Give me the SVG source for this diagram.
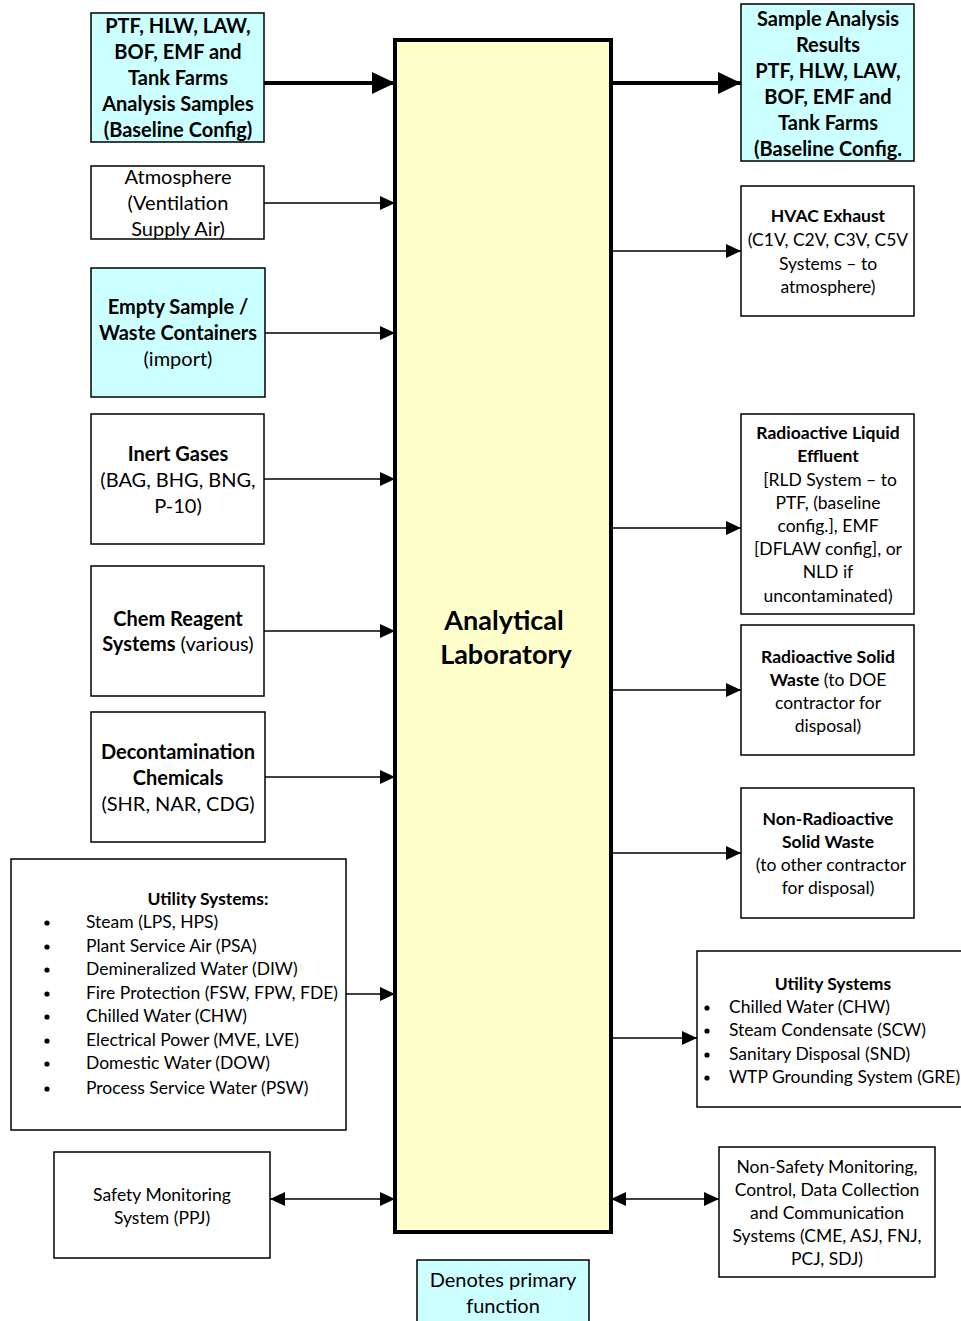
<svg xmlns="http://www.w3.org/2000/svg" width="961" height="1321" viewBox="0 0 961 1321">
<style>
text{font-family:Lato,"Open Sans","Liberation Sans",sans-serif;fill:#000;text-anchor:middle}
.b{font-weight:bold}
.l{font-size:20px}
.m{font-size:17.5px}
.s{font-size:17.5px;text-anchor:start}
.box{stroke:#000;stroke-width:1.5;fill:#fff}
.cy{fill:#CCFFFF}
.thin{stroke:#000;stroke-width:1.5;fill:none;marker-end:url(#ah)}
.thick{stroke:#000;stroke-width:4;fill:none;marker-end:url(#AH)}
.dbl{stroke:#000;stroke-width:1.5;fill:none;marker-end:url(#ah);marker-start:url(#ah)}
</style>
<defs>
<marker id="ah" markerUnits="userSpaceOnUse" markerWidth="16" markerHeight="14" refX="15" refY="7" orient="auto-start-reverse"><path d="M0,0 L15,7 L0,14 z" fill="#000"/></marker>
<marker id="AH" markerUnits="userSpaceOnUse" markerWidth="24" markerHeight="22" refX="23" refY="11" orient="auto"><path d="M0,0 L23,11 L0,22 z" fill="#000"/></marker>
</defs>
<rect width="961" height="1321" fill="#fff"/>

<g id="main">
<rect x="395" y="40" width="216" height="1192" fill="#FFFFCC" stroke="#000" stroke-width="4"/>
<text x="504" y="630" class="b" font-size="27">Analytical</text>
<text x="506" y="664" class="b" font-size="27">Laboratory</text>
</g>

<g id="connectors">
<line x1="264" y1="83" x2="395" y2="83" class="thick"/>
<line x1="611" y1="83" x2="741" y2="83" class="thick"/>
<line x1="264" y1="203" x2="395" y2="203" class="thin"/>
<line x1="265" y1="333" x2="395" y2="333" class="thin"/>
<line x1="264" y1="479" x2="395" y2="479" class="thin"/>
<line x1="264" y1="631" x2="395" y2="631" class="thin"/>
<line x1="265" y1="777" x2="395" y2="777" class="thin"/>
<line x1="346" y1="994" x2="395" y2="994" class="thin"/>
<line x1="270" y1="1199" x2="395" y2="1199" class="dbl"/>
<line x1="611" y1="251" x2="741" y2="251" class="thin"/>
<line x1="611" y1="528" x2="741" y2="528" class="thin"/>
<line x1="611" y1="690" x2="741" y2="690" class="thin"/>
<line x1="611" y1="853" x2="741" y2="853" class="thin"/>
<line x1="611" y1="1038" x2="697" y2="1038" class="thin"/>
<line x1="611" y1="1199" x2="719" y2="1199" class="dbl"/>
</g>

<g id="samples-in">
<rect x="91" y="13" width="173" height="129" class="box cy"/>
<text class="b l"><tspan x="178" y="33">PTF, HLW, LAW,</tspan><tspan x="178" y="59">BOF, EMF and</tspan><tspan x="178" y="85">Tank Farms</tspan><tspan x="178" y="111">Analysis Samples</tspan><tspan x="178" y="137">(Baseline Config)</tspan></text>
</g>

<g id="atmosphere">
<rect x="91" y="166" width="173" height="73" class="box"/>
<text class="l"><tspan x="178" y="184">Atmosphere</tspan><tspan x="178" y="210">(Ventilation</tspan><tspan x="178" y="236">Supply Air)</tspan></text>
</g>

<g id="containers">
<rect x="91" y="268" width="174" height="129" class="box cy"/>
<text class="l"><tspan x="178" y="314" class="b">Empty Sample /</tspan><tspan x="178" y="340" class="b">Waste Containers</tspan><tspan x="178" y="366">(import)</tspan></text>
</g>

<g id="inert">
<rect x="91" y="414" width="173" height="130" class="box"/>
<text class="l"><tspan x="178" y="461" class="b">Inert Gases</tspan><tspan x="178" y="487">(BAG, BHG, BNG,</tspan><tspan x="178" y="513">P-10)</tspan></text>
</g>

<g id="chem">
<rect x="91" y="566" width="173" height="130" class="box"/>
<text class="l"><tspan x="178" y="626" class="b">Chem Reagent</tspan><tspan x="178" y="651"><tspan class="b">Systems</tspan> (various)</tspan></text>
</g>

<g id="decon">
<rect x="91" y="712" width="174" height="130" class="box"/>
<text class="l"><tspan x="178" y="759" class="b">Decontamination</tspan><tspan x="178" y="785" class="b">Chemicals</tspan><tspan x="178" y="811">(SHR, NAR, CDG)</tspan></text>
</g>

<g id="utility-in">
<rect x="11" y="859" width="335" height="271" class="box"/>
<text x="208" y="905" class="b m">Utility Systems:</text>
<g fill="#000"><circle cx="47" cy="923" r="2.6"/><circle cx="47" cy="947" r="2.6"/><circle cx="47" cy="970" r="2.6"/><circle cx="47" cy="994" r="2.6"/><circle cx="47" cy="1017" r="2.6"/><circle cx="47" cy="1041" r="2.6"/><circle cx="47" cy="1064" r="2.6"/><circle cx="47" cy="1089" r="2.6"/></g>
<text class="s"><tspan x="86" y="928">Steam (LPS, HPS)</tspan><tspan x="86" y="952">Plant Service Air (PSA)</tspan><tspan x="86" y="975">Demineralized Water (DIW)</tspan><tspan x="86" y="999">Fire Protection (FSW, FPW, FDE)</tspan><tspan x="86" y="1022">Chilled Water (CHW)</tspan><tspan x="86" y="1046">Electrical Power (MVE, LVE)</tspan><tspan x="86" y="1069">Domestic Water (DOW)</tspan><tspan x="86" y="1094">Process Service Water (PSW)</tspan></text>
</g>

<g id="safety">
<rect x="54" y="1152" width="216" height="106" class="box"/>
<text class="m"><tspan x="162" y="1201">Safety Monitoring</tspan><tspan x="162" y="1224">System  (PPJ)</tspan></text>
</g>

<g id="results">
<rect x="741" y="4" width="173" height="157" class="box cy"/>
<text class="b l"><tspan x="828" y="26">Sample Analysis</tspan><tspan x="828" y="52">Results</tspan><tspan x="828" y="78">PTF, HLW, LAW,</tspan><tspan x="828" y="104">BOF, EMF and</tspan><tspan x="828" y="130">Tank Farms</tspan><tspan x="828" y="156">(Baseline Config.</tspan></text>
</g>

<g id="hvac">
<rect x="741" y="186" width="173" height="130" class="box"/>
<text class="m"><tspan x="828" y="222" class="b">HVAC Exhaust</tspan><tspan x="828" y="246">(C1V, C2V, C3V, C5V</tspan><tspan x="828" y="270">Systems – to</tspan><tspan x="828" y="293">atmosphere)</tspan></text>
</g>

<g id="liquid">
<rect x="741" y="414" width="173" height="200" class="box"/>
<text class="m"><tspan x="828" y="439" class="b">Radioactive Liquid</tspan><tspan x="828" y="462" class="b">Effluent</tspan><tspan x="830" y="486">[RLD System – to</tspan><tspan x="828" y="509">PTF, (baseline</tspan><tspan x="828" y="532">config.], EMF</tspan><tspan x="828" y="555">[DFLAW config], or</tspan><tspan x="828" y="578">NLD if</tspan><tspan x="828" y="602">uncontaminated)</tspan></text>
</g>

<g id="solid">
<rect x="741" y="625" width="173" height="130" class="box"/>
<text class="m"><tspan x="828" y="663" class="b">Radioactive Solid</tspan><tspan x="828" y="686"><tspan class="b">Waste</tspan> (to DOE</tspan><tspan x="828" y="709">contractor for</tspan><tspan x="828" y="732">disposal)</tspan></text>
</g>

<g id="nonrad">
<rect x="741" y="788" width="173" height="130" class="box"/>
<text class="m"><tspan x="828" y="825" class="b">Non-Radioactive</tspan><tspan x="828" y="848" class="b">Solid Waste</tspan><tspan x="831" y="871">(to other contractor</tspan><tspan x="828" y="894">for disposal)</tspan></text>
</g>

<g id="utility-out">
<rect x="697" y="951" width="270" height="156" class="box"/>
<text x="833" y="990" class="b m">Utility Systems</text>
<g fill="#000"><circle cx="707" cy="1008" r="2.6"/><circle cx="707" cy="1031" r="2.6"/><circle cx="707" cy="1055" r="2.6"/><circle cx="707" cy="1078" r="2.6"/></g>
<text class="s"><tspan x="729" y="1013">Chilled Water (CHW)</tspan><tspan x="729" y="1036">Steam Condensate (SCW)</tspan><tspan x="729" y="1060">Sanitary Disposal (SND)</tspan><tspan x="729" y="1083">WTP Grounding System (GRE)</tspan></text>
</g>

<g id="nonsafety">
<rect x="719" y="1147" width="216" height="130" class="box"/>
<text class="m"><tspan x="827" y="1173">Non-Safety Monitoring,</tspan><tspan x="827" y="1196">Control, Data Collection</tspan><tspan x="827" y="1219">and Communication</tspan><tspan x="827" y="1242">Systems (CME, ASJ, FNJ,</tspan><tspan x="827" y="1265">PCJ, SDJ)</tspan></text>
</g>

<g id="legend">
<rect x="417" y="1260" width="172" height="70" class="box cy"/>
<text class="l"><tspan x="503" y="1287">Denotes primary</tspan><tspan x="503" y="1313">function</tspan></text>
</g>
</svg>
